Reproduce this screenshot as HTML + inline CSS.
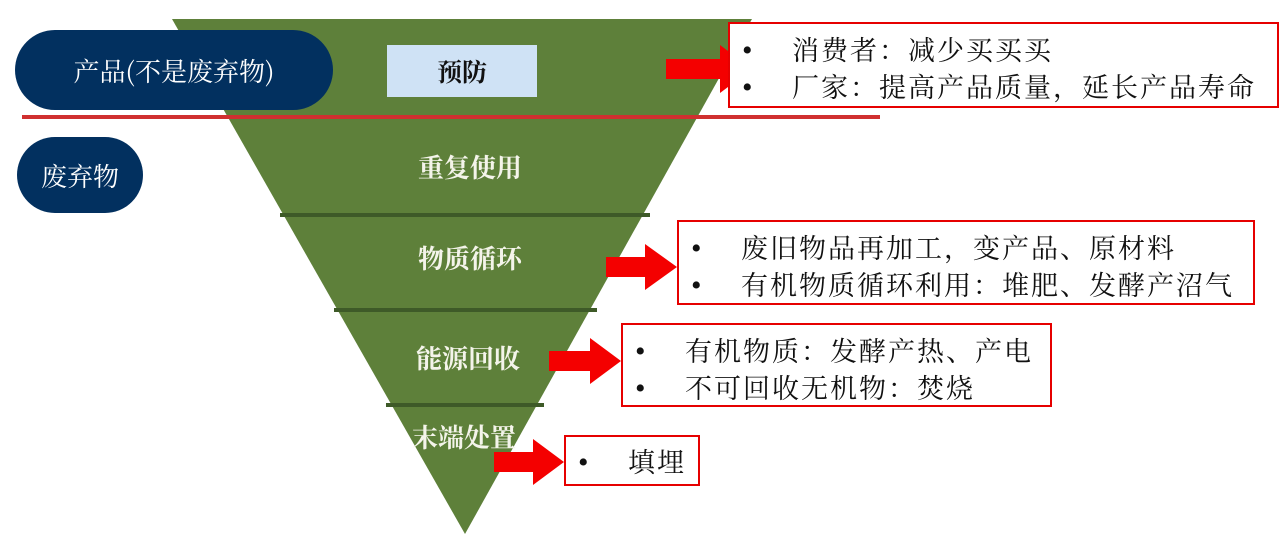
<!DOCTYPE html>
<html><head><meta charset="utf-8"><style>
body{margin:0;width:1280px;height:558px;background:#fff;position:relative;overflow:hidden;font-family:"Liberation Serif","Noto Serif CJK SC",serif}
.a{position:absolute}
.pill{background:#02305f;color:#fff;border-radius:36px;display:flex;align-items:center;justify-content:center;font-size:26px;font-family:"Noto Serif CJK SC",serif}
.lbl{color:#f4f4ea;font-weight:bold;font-size:26px;text-align:center;width:200px;font-family:"Noto Serif CJK SC",serif;line-height:34px}
.box{border:2px solid #e60000;background:#fff;font-size:27px;letter-spacing:2px;color:#111;box-sizing:border-box;line-height:35px;font-family:"Noto Serif CJK SC",serif}
.box div{white-space:nowrap}
.box span{display:inline-block;width:50px;padding-left:12px;font-family:"Liberation Serif",serif;font-size:30px;letter-spacing:0}
</style></head><body>
<svg class="a" style="left:0;top:0" width="1280" height="558">
<polygon points="172,19 752,19 465,534" fill="#5e803a"/>
<line x1="280" y1="215" x2="650" y2="215" stroke="#3e5a28" stroke-width="4"/>
<line x1="334" y1="310" x2="597" y2="310" stroke="#3e5a28" stroke-width="4"/>
<line x1="386" y1="405" x2="544" y2="405" stroke="#3e5a28" stroke-width="4"/>
<g fill="#f40000">
<polygon points="666,59 720,59 720,45 752,69 720,93 720,79 666,79"/>
<polygon points="606,257 645,257 645,244 677,267 645,290 645,277 606,277"/>
<polygon points="549,351 590,351 590,338 621,361 590,384 590,371 549,371"/>
<polygon points="494,452 533,452 533,439 564,462 533,485 533,472 494,472"/>
</g>
</svg>
<div class="a pill" style="left:15px;top:30px;width:318px;height:80px;border-radius:40px">产品(不是废弃物)</div>
<div class="a" style="left:22px;top:115px;width:858px;height:4px;background:#d03030"></div>
<div class="a pill" style="left:17px;top:137px;width:126px;height:76px;border-radius:38px">废弃物</div>
<div class="a" style="left:387px;top:45px;width:150px;height:52px;background:#cfe2f5;display:flex;align-items:center;justify-content:center;font-size:25px;font-weight:bold;color:#111;font-family:'Noto Serif CJK SC',serif">预防</div>
<div class="a lbl" style="left:370px;top:150px">重复使用</div>
<div class="a lbl" style="left:370px;top:241px">物质循环</div>
<div class="a lbl" style="left:368px;top:341px">能源回收</div>
<div class="a lbl" style="left:364px;top:420px">末端处置</div>
<div class="a box" style="left:728px;top:22px;width:551px;height:86px;padding-top:7px"><div><span>•</span>消费者：减少买买买</div><div><span>•</span>厂家：提高产品质量，延长产品寿命</div></div>
<div class="a box" style="left:677px;top:220px;width:578px;height:85px;padding-top:7px"><div><span>•</span>废旧物品再加工，变产品、原材料</div><div><span>•</span>有机物质循环利用：堆肥、发酵产沼气</div></div>
<div class="a box" style="left:621px;top:323px;width:431px;height:84px;padding-top:7px"><div><span>•</span>有机物质：发酵产热、产电</div><div><span>•</span>不可回收无机物：焚烧</div></div>
<div class="a box" style="left:564px;top:435px;width:136px;height:51px;padding-top:6px"><div><span>•</span>填埋</div></div>
</body></html>
